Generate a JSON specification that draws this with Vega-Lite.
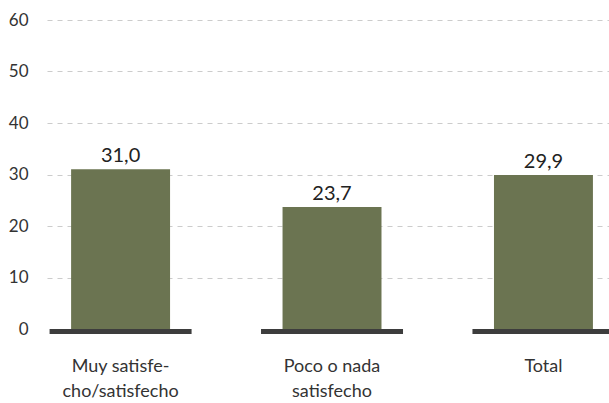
{
  "$schema": "https://vega.github.io/schema/vega-lite/v6.json",
  "width": 562,
  "height": 309,
  "autosize": "none",
  "padding": {"left": 47, "top": 20, "right": 0, "bottom": 74},
  "data": {"values": [
    {"cat": "Muy satisfe-|cho/satisfecho", "value": 31.0},
    {"cat": "Poco o nada|satisfecho", "value": 23.7},
    {"cat": "Total", "value": 29.9}
  ]},
  "encoding": {
    "x": {
      "field": "cat", "type": "nominal", "sort": null,
      "scale": {"paddingInner": 0.532, "paddingOuter": 0.095, "align": 0.6},
      "axis": {
        "title": null, "labelAngle": 0, "domain": false, "ticks": false,
        "labelExpr": "split(datum.label, '|')",
        "labelFont": "Lato", "labelFontSize": 18, "labelColor": "#333333",
        "labelPadding": 28, "labelLineHeight": 25, "labelBaseline": "top"
      }
    },
    "y": {
      "field": "value", "type": "quantitative",
      "scale": {"domain": [0, 60], "nice": false},
      "axis": {
        "title": null, "values": [0, 10, 20, 30, 40, 50, 60],
        "domain": false, "ticks": false,
        "labelFont": "Lato", "labelFontSize": 17, "labelColor": "#333333",
        "labelPadding": 19, "labelAlign": "right",
        "gridColor": "#cccccc", "gridDash": [5, 5], "gridWidth": 1.2,
        "gridOpacity": {"condition": {"test": "datum.value === 0", "value": 0}, "value": 1}
      }
    }
  },
  "layer": [
    {"mark": {"type": "bar", "color": "#6b7451"}},
    {"mark": {"type": "tick", "color": "#3d3d3d", "size": 142, "thickness": 5, "yOffset": 2.5, "opacity": 1},
     "encoding": {"y": {"datum": 0, "type": "quantitative"}}},
    {"mark": {"type": "text", "dy": -13, "font": "Lato", "fontSize": 20, "color": "#222222"},
     "encoding": {"text": {"field": "value", "type": "quantitative", "format": ".1f"}}}
  ],
  "config": {
    "view": {"stroke": null},
    "locale": {"number": {"decimal": ",", "thousands": ".", "grouping": [3], "currency": ["", ""]}}
  }
}
